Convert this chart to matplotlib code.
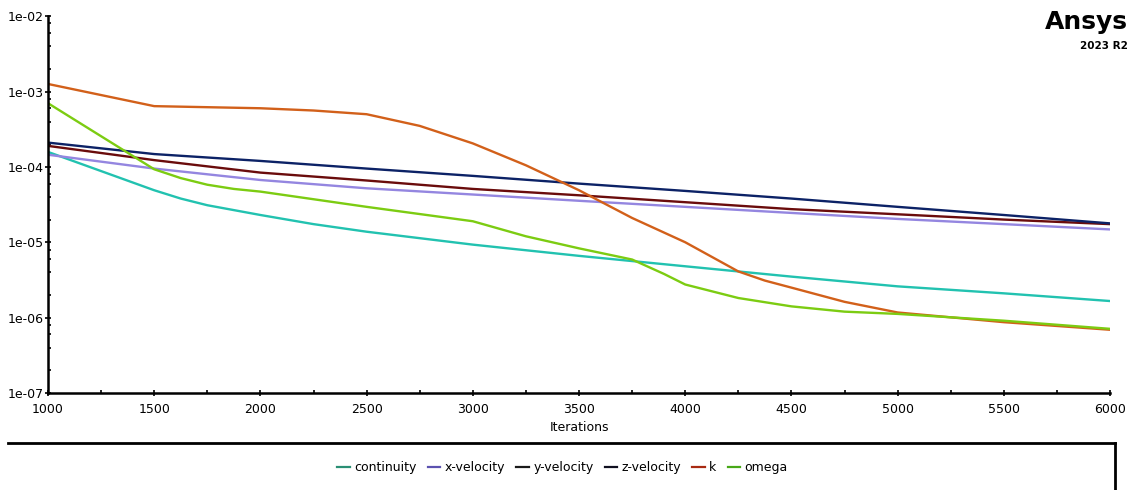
import numpy as np
import matplotlib
matplotlib.use("Agg")
import matplotlib.pyplot as plt
from matplotlib.lines import Line2D
from matplotlib.ticker import LogLocator, MultipleLocator, FixedLocator

# residual history (iteration, value)
cont_it = [1000, 1500, 1625, 1750, 2000, 2250, 2500, 3000, 3500, 4000, 4500, 5000, 5500, 6000]
cont = [1.58e-4, 4.9e-5, 3.8e-5, 3.1e-5, 2.3e-5, 1.74e-5, 1.38e-5, 9.3e-6, 6.6e-6, 4.8e-6, 3.5e-6, 2.6e-6, 2.1e-6, 1.66e-6]

vel_it = [1000, 1500, 2000, 2500, 3000, 3500, 4000, 4500, 5000, 5500, 6000]
xvel = [1.45e-4, 9.5e-5, 6.7e-5, 5.2e-5, 4.3e-5, 3.55e-5, 2.95e-5, 2.45e-5, 2.04e-5, 1.74e-5, 1.48e-5]
yvel = [1.9e-4, 1.23e-4, 8.4e-5, 6.6e-5, 5.1e-5, 4.2e-5, 3.4e-5, 2.75e-5, 2.35e-5, 2.0e-5, 1.74e-5]
zvel = [2.1e-4, 1.48e-4, 1.2e-4, 9.5e-5, 7.6e-5, 6.0e-5, 4.8e-5, 3.8e-5, 2.95e-5, 2.3e-5, 1.78e-5]

k_it = [1000, 1500, 2000, 2250, 2500, 2750, 3000, 3250, 3500, 3750, 4000, 4250, 4375, 4500, 4750, 5000, 5500, 6000]
k = [1.26e-3, 6.4e-4, 6.0e-4, 5.6e-4, 5.0e-4, 3.5e-4, 2.05e-4, 1.05e-4, 4.9e-5, 2.1e-5, 1.0e-5, 4.1e-6, 3.1e-6, 2.5e-6, 1.62e-6, 1.17e-6, 8.7e-7, 6.9e-7]

om_it = [1000, 1500, 1625, 1750, 1875, 2000, 2500, 3000, 3250, 3500, 3750, 3900, 4000, 4250, 4500, 4750, 5000, 5500, 6000]
omega = [7.0e-4, 9.3e-5, 7.1e-5, 5.8e-5, 5.1e-5, 4.7e-5, 2.95e-5, 1.9e-5, 1.2e-5, 8.3e-6, 5.9e-6, 3.8e-6, 2.75e-6, 1.82e-6, 1.41e-6, 1.2e-6, 1.12e-6, 9.1e-7, 7.1e-7]

names = ["continuity", "x-velocity", "y-velocity", "z-velocity", "k", "omega"]
line_colors = ["#22c2b0", "#9486e0", "#6a0c0c", "#0c2266", "#d2601a", "#7ccc12"]
legend_colors = ["#2a8f74", "#5c52b0", "#1a1a1a", "#101020", "#a82a12", "#48a818"]

fig = plt.figure(figsize=(11.32, 4.90), dpi=100)
ax = fig.add_axes([0.0424, 0.198, 0.9382, 0.769])

series = [(cont_it, cont), (vel_it, xvel), (vel_it, yvel), (vel_it, zvel), (k_it, k), (om_it, omega)]
for (it, v), c in zip(series, line_colors):
	ax.plot(it, v, color=c, lw=1.7, solid_capstyle="butt", solid_joinstyle="round")

ax.set_yscale("log")
ax.set_xlim(1000, 6000)
ax.set_ylim(1e-7, 1e-2)
ax.xaxis.set_major_locator(MultipleLocator(500))
ax.xaxis.set_minor_locator(MultipleLocator(250))
ax.yaxis.set_major_locator(FixedLocator([1e-7, 1e-6, 1e-5, 1e-4, 1e-3, 1e-2]))
ax.yaxis.set_minor_locator(LogLocator(base=10, subs=(2, 4, 6, 8)))
ax.yaxis.set_minor_formatter(plt.NullFormatter())
ax.set_yticklabels(["1e-07", "1e-06", "1e-05", "1e-04", "1e-03", "1e-02"])
ax.tick_params(axis="y", which="major", labelsize=9, length=4, width=1.2, direction="inout", pad=1)
ax.tick_params(axis="x", which="major", labelsize=9, length=4, width=1.2, direction="inout", pad=5)
ax.tick_params(axis="both", which="minor", length=2.5, width=1.2, direction="in")

for s in ["top", "right"]:
	ax.spines[s].set_visible(False)
for s in ["left", "bottom"]:
	ax.spines[s].set_linewidth(1.8)

ax.set_xlabel("Iterations", fontsize=9, labelpad=4)

handles = [Line2D([], [], color=c, lw=1.6) for c in legend_colors]
fig.legend(handles, names, loc="center", bbox_to_anchor=(0.497, 0.045), ncol=6, frameon=False,
		   fontsize=9, handlelength=1.0, handletextpad=0.35, columnspacing=0.9)

# legend panel border
fig.add_artist(Line2D([8/1132, 1115/1132], [1-443/490, 1-443/490], color="black", lw=2, transform=fig.transFigure))
fig.add_artist(Line2D([1115/1132, 1115/1132], [1-443/490, 0], color="black", lw=2, transform=fig.transFigure))

fig.text(1128/1132, 1-22/490, "Ansys", ha="right", va="center", fontsize=18, fontweight="bold")
fig.text(1128/1132, 1-46/490, "2023 R2", ha="right", va="center", fontsize=7.5, fontweight="bold")

fig.savefig("out.png", dpi=100)
